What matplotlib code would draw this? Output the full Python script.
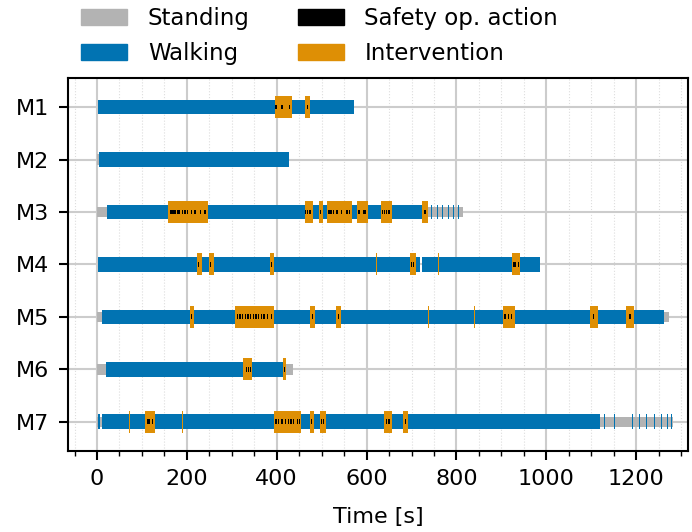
import matplotlib.pyplot as plt
from matplotlib.patches import Patch
from matplotlib.ticker import MultipleLocator

rows = ["M1", "M2", "M3", "M4", "M5", "M6", "M7"]

# (start, end) in seconds, per row
standing = [
    [],
    [(0, 4)],
    [(0, 22), (726, 815)],
    [],
    [(0, 12), (1261, 1274)],
    [(0, 19), (421, 436)],
    [(0, 12), (1119, 1283)],
]
walking = [
    [(2, 573)],
    [(4, 428)],
    [(22, 726), (744, 746), (756, 758), (768, 770), (781, 783), (792, 794), (803, 805)],
    [(2, 718), (724, 986)],
    [(12, 1261)],
    [(19, 421)],
    [(3, 7), (12, 1119), (1128, 1130), (1150, 1152), (1172, 1174), (1190, 1192),
     (1206, 1208), (1222, 1224), (1240, 1242), (1255, 1257), (1268, 1270), (1278, 1280)],
]
intervention = [
    [(396, 434), (464, 473)],
    [],
    [(159, 247), (462, 480), (494, 503), (512, 568), (579, 603), (632, 657), (724, 737)],
    [(222, 234), (249, 260), (384, 394), (620, 623), (697, 709), (760, 762), (924, 942)],
    [(208, 215), (307, 395), (475, 486), (533, 543), (737, 739), (839, 841),
     (903, 931), (1085, 1087), (1098, 1114), (1178, 1195)],
    [(325, 346), (414, 421)],
    [(71, 73), (107, 128), (189, 191), (395, 454), (475, 483), (496, 509),
     (639, 656), (682, 692)],
]
# safety operator actions, seconds
safety = [
    [398, 410, 413, 428, 468],
    [],
    [163, 167, 171, 175, 180, 184, 190, 196, 202, 210, 218, 230, 240, 464, 468, 474,
     497, 516, 521, 526, 534, 544, 556, 562, 583, 594, 598, 636, 640, 645, 650, 730],
    [226, 252, 388, 700, 704, 928, 932, 938],
    [211, 312, 318, 324, 330, 336, 342, 348, 354, 360, 366, 372, 380, 388,
     480, 537, 908, 916, 922, 1105, 1186],
    [332, 337, 341, 417],
    [112, 116, 124, 398, 404, 412, 420, 426, 432, 438, 446, 450,
     478, 500, 504, 644, 650, 686],
]

c_stand = "#b3b3b3"
c_walk = "#0173b2"
c_int = "#de8f05"
c_safe = "black"

plt.rcParams["font.size"] = 16
fig = plt.figure(figsize=(6.92, 5.32), dpi=100)
ax = fig.add_axes([0.098, 0.153, 0.896, 0.700])

ax.set_axisbelow(True)
ax.grid(which="major", color="#cccccc", linewidth=1.5)
ax.grid(which="minor", axis="x", color="#dddddd", linewidth=0.8, linestyle=":")

for i in range(len(rows)):
    spans = [(s, e - s) for s, e in standing[i]]
    ax.broken_barh(spans, (i - 0.1, 0.2), facecolor=c_stand, edgecolor="none")
    spans = [(s, e - s) for s, e in walking[i]]
    ax.broken_barh(spans, (i - 0.14, 0.28), facecolor=c_walk, edgecolor="none")
    spans = [(s, e - s) for s, e in intervention[i]]
    ax.broken_barh(spans, (i - 0.21, 0.42), facecolor=c_int, edgecolor="none")
    spans = [(t - 1.5, 3) for t in safety[i]]
    ax.broken_barh(spans, (i - 0.045, 0.09), facecolor=c_safe, edgecolor="none")

ax.set_yticks(range(len(rows)))
ax.set_yticklabels(rows)
ax.set_ylim(6.55, -0.55)
ax.set_xlim(-65, 1315)
ax.xaxis.set_major_locator(MultipleLocator(200))
ax.xaxis.set_minor_locator(MultipleLocator(50))
ax.tick_params(which="major", length=6.5, width=1.5, pad=7, labelsize=16)
ax.tick_params(which="minor", length=3.5, width=1)
for sp in ax.spines.values():
    sp.set_linewidth(1.5)
ax.set_xlabel("Time [s]", fontsize=16, labelpad=13)

handles = [
    Patch(color=c_stand, label="Standing"),
    Patch(color=c_walk, label="Walking"),
    Patch(color=c_safe, label="Safety op. action"),
    Patch(color=c_int, label="Intervention"),
]
fig.legend(handles=handles, ncol=2, loc="upper center", bbox_to_anchor=(0.462, 1.025),
           frameon=False, fontsize=16.5, handlelength=2.0, handleheight=0.7,
           handletextpad=0.9, columnspacing=2.1, labelspacing=0.5)

fig.savefig("out.png", dpi=100)
